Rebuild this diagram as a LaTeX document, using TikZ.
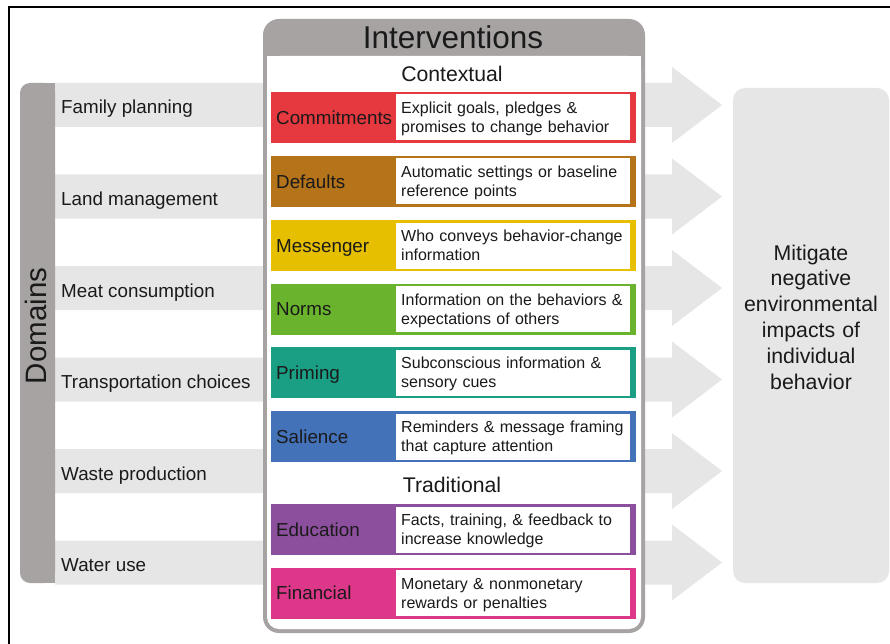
\documentclass[tikz,border=0pt]{standalone}
\usepackage{fontspec}
\setmainfont{Liberation Sans}
\definecolor{framegray}{HTML}{A7A3A3}
\definecolor{lightbar}{HTML}{E6E6E6}
\definecolor{txt}{HTML}{1A1A1A}
\definecolor{cRed}{HTML}{E5383F}
\definecolor{cBrown}{HTML}{B5731A}
\definecolor{cYellow}{HTML}{E6BF00}
\definecolor{cGreen}{HTML}{6AB42D}
\definecolor{cTeal}{HTML}{1A9F85}
\definecolor{cBlue}{HTML}{4472B9}
\definecolor{cPurple}{HTML}{8C4F9D}
\definecolor{cPink}{HTML}{DD3789}
\tikzset{
  domtext/.style={font=\fontsize{18.8}{22}\selectfont, text=txt, inner sep=0pt, anchor=base west},
  labtext/.style={font=\fontsize{18.8}{22}\selectfont, text=txt, inner sep=0pt, anchor=base west},
  desctext/.style={font=\fontsize{16}{19}\selectfont, text=txt, inner sep=0pt, text width=230pt, align=left, anchor=base west},
  headtext/.style={font=\fontsize{21.2}{25}\selectfont, text=txt, inner sep=0pt},
  bigtext/.style={font=\fontsize{31.5}{36}\selectfont, text=txt, inner sep=0pt},
}
\newcommand{\DomRow}[3]{% name, ytop, text
  \fill[lightbar] (55,#2) -- (672,#2) -- (672,#2-16) -- (722,#2+22) -- (672,#2+60) -- (672,#2+44) -- (55,#2+44) -- cycle;
  \node[domtext] (#1) at (61,#2+31) {#3};
}
\newcommand{\IntRow}[6]{% name, ytop, colour, label, line1, line2
  \fill[#3] (271,#2) rectangle (636,#2+51);
  \fill[white] (396,#2+2.5) rectangle (630,#2+48.5);
  \node[labtext] (#1) at (276,#2+32.3) {#4};
  \node[desctext] (#1d) at (401,#2+21.5) {#5\\#6};
}
\begin{document}
\begin{tikzpicture}[x=1pt,y=-1pt]
\useasboundingbox (0,0) rectangle (890,644);
\fill[white] (0,0) rectangle (890,644);
\draw[line width=1.2pt] (9,644) -- (9,7) -- (890,7);

% domain rows (bars ending in arrows)
\DomRow{d1}{83}{Family planning}
\DomRow{d2}{174.5}{Land management}
\DomRow{d3}{266}{Meat consumption}
\DomRow{d4}{357.5}{Transportation choices}
\DomRow{d5}{449}{Waste production}
\DomRow{d6}{540.5}{Water use}

% domains bar
\fill[framegray, rounded corners=10pt] (20,83) rectangle (55,583);
\fill[framegray] (45,83) rectangle (55,583);
\node[font=\fontsize{29.5}{34}\selectfont, text=txt, inner sep=0pt, rotate=90] (domains) at (36,326) {Domains};

% result box
\fill[lightbar, rounded corners=12pt] (733,88) rectangle (889,583);
\node[font=\fontsize{21.3}{25.8}\selectfont, text=txt, inner sep=0pt, text width=156pt, align=center, anchor=base] (result) at (811,260)
  {Mitigate\\negative\\environmental\\impacts of\\individual\\behavior};

% interventions panel
\fill[framegray, rounded corners=16pt] (263,19) rectangle (645,633);
\fill[white, rounded corners=12pt] (267,56) rectangle (641,629);
\fill[white] (267,56) rectangle (641,90);
\node[bigtext] (title) at (453,37) {Interventions};
\node[headtext] (ctx) at (452,74) {Contextual};
\node[headtext] (trad) at (452,484.5) {Traditional};

\IntRow{i1}{92}{cRed}{Commitments}{Explicit goals, pledges \&}{promises to change behavior}
\IntRow{i2}{156}{cBrown}{Defaults}{Automatic settings or baseline}{reference points}
\IntRow{i3}{220}{cYellow}{Messenger}{Who conveys behavior-change}{information}
\IntRow{i4}{283.5}{cGreen}{Norms}{Information on the behaviors \&}{expectations of others}
\IntRow{i5}{347}{cTeal}{Priming}{Subconscious information \&}{sensory cues}
\IntRow{i6}{411}{cBlue}{Salience}{Reminders \& message framing}{that capture attention}
\IntRow{i7}{504}{cPurple}{Education}{Facts, training, \& feedback to}{increase knowledge}
\IntRow{i8}{567.5}{cPink}{Financial}{Monetary \& nonmonetary}{rewards or penalties}
\end{tikzpicture}
\end{document}
